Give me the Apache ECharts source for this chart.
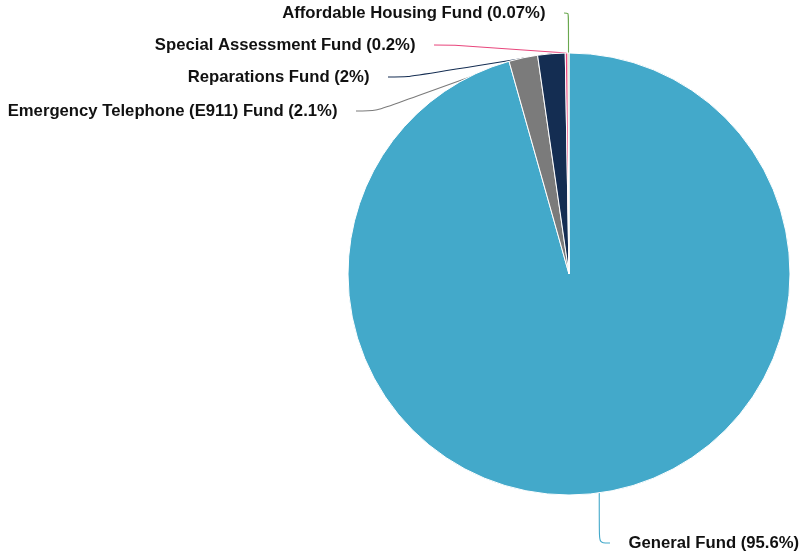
<!DOCTYPE html>
<html>
<head>
<meta charset="utf-8">
<style>
  html, body { margin: 0; padding: 0; background: #fff; }
  #chart { width: 799px; height: 556px; }
</style>
<script src="https://cdn.jsdelivr.net/npm/echarts@6/dist/echarts.min.js"></script>
</head>
<body>
<div id="chart"></div>
<script>
// Fund shares of the budget, in percent
const funds = [
  'General Fund',
  'Emergency Telephone (E911) Fund',
  'Reparations Fund',
  'Special Assessment Fund',
  'Affordable Housing Fund'
];
const shares = [95.6, 2.1, 2, 0.2, 0.07];
const colors = ['#43a9ca', '#7b7b7b', '#142d52', '#e8467c', '#6aa84f'];

// Where each label's text edge sits: [x, y, alignment]
const labelSpots = [
  [628, 543, 'left'],
  [338, 111, 'right'],
  [370, 77, 'right'],
  [416, 45, 'right'],
  [546, 13, 'right']
];
// Blank run that keeps each connector clear of its text (~16px)
const SPACER = '\u00a0\u00a0\u00a0\u00a0';
const GAP = 18;

const chart = echarts.init(document.getElementById('chart'), null, { renderer: 'canvas' });

chart.setOption({
  animation: false,
  series: [{
    type: 'pie',
    center: [569, 274],
    radius: [0, 221],
    startAngle: 90,
    clockwise: true,
    avoidLabelOverlap: false,
    data: funds.map((name, i) => ({
      name: name,
      value: shares[i],
      itemStyle: { color: colors[i] },
      labelLine: { lineStyle: { color: colors[i] } }
    })),
    itemStyle: { borderColor: '#ffffff', borderWidth: 1 },
    label: {
      show: true,
      formatter: function (p) {
        const txt = p.name + ' (' + p.value + '%)';
        return labelSpots[p.dataIndex][2] === 'left' ? SPACER + txt : txt + SPACER;
      },
      fontFamily: 'Liberation Sans, Arial, sans-serif',
      fontWeight: 'bold',
      fontSize: 16.7,
      color: '#111'
    },
    labelLine: {
      show: true,
      smooth: 0.3,
      length: 10,
      length2: 20,
      lineStyle: { width: 1.1 }
    },
    labelLayout: function (params) {
      const s = labelSpots[params.dataIndex];
      return {
        x: s[2] === 'left' ? s[0] - GAP : s[0] + GAP,
        y: s[1],
        align: s[2],
        verticalAlign: 'middle'
      };
    }
  }]
});
</script>
</body>
</html>
